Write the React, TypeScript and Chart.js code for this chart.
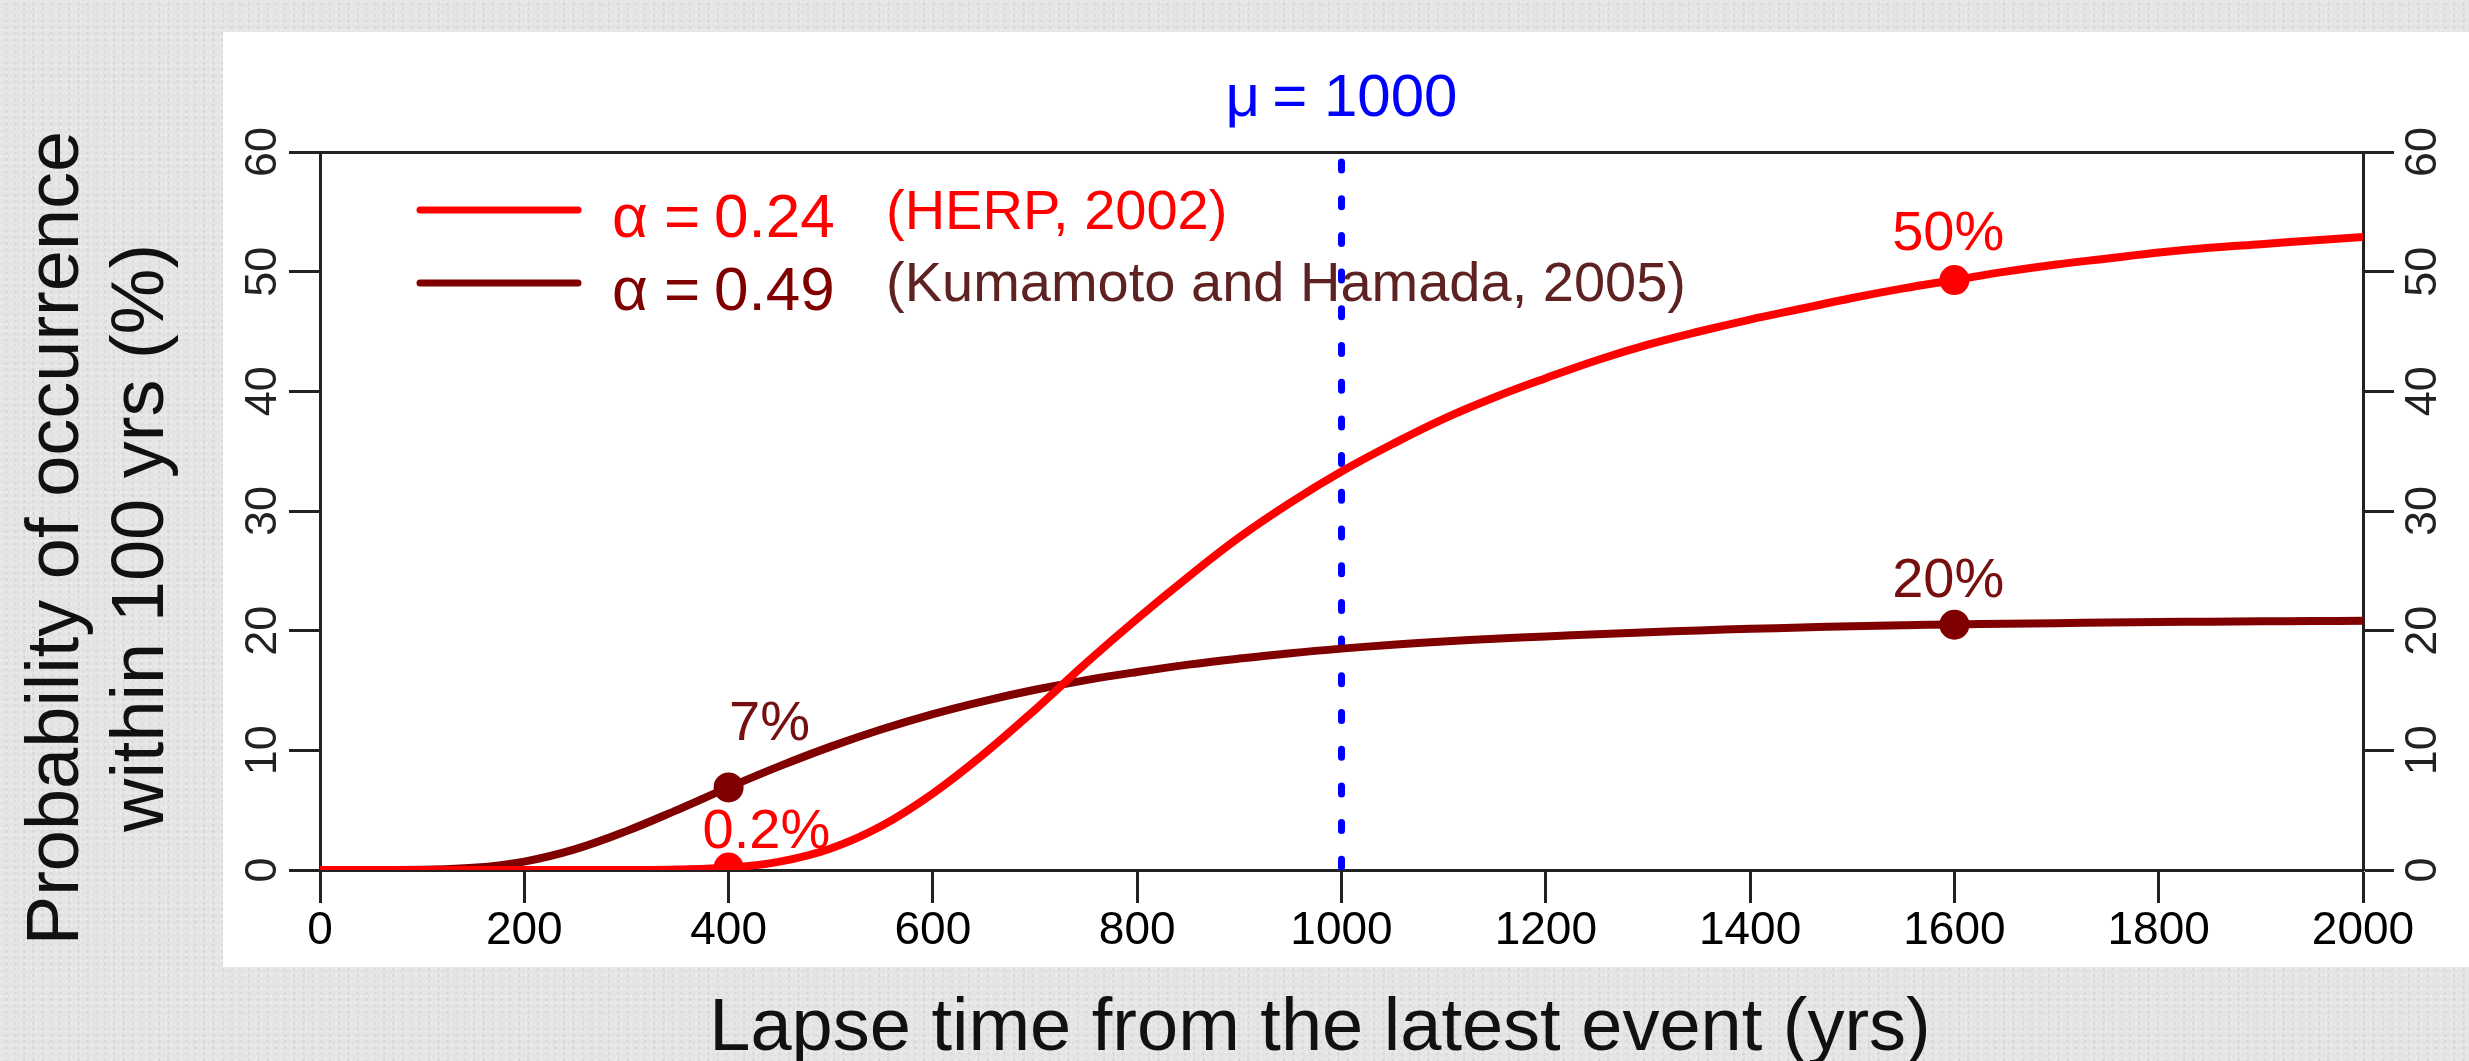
import React, { useEffect, useRef } from 'react';
import { Chart, registerables } from 'chart.js';

Chart.register(...registerables);

// ---------- data ----------
const lapseYears = [
  0, 50, 100, 150, 200, 250, 300, 350, 400, 450, 500, 550, 600, 650, 700, 750, 800, 850, 900, 950,
  1000, 1050, 1100, 1150, 1200, 1250, 1300, 1350, 1400, 1450, 1500, 1550, 1600, 1650, 1700, 1750, 1800, 1850, 1900, 1950, 2000,
];
const probAlpha024 = [
  0, 0, 0, 0, 0, 0, 0, 0.04, 0.2, 0.7, 1.8, 3.7, 6.4, 9.7, 13.4, 17.3, 21.0, 24.5, 27.8, 30.7,
  33.3, 35.6, 37.7, 39.5, 41.1, 42.6, 43.9, 45.0, 46.0, 46.9, 47.8, 48.6, 49.3, 50.0, 50.6, 51.1, 51.6, 52.0, 52.3, 52.6, 52.9,
];
const probAlpha049 = [
  0, 0, 0.02, 0.18, 0.7, 1.74, 3.25, 5.03, 6.9, 8.68, 10.31, 11.76, 13.03, 14.12, 15.06, 15.87, 16.55, 17.16, 17.67, 18.12,
  18.5, 18.82, 19.1, 19.32, 19.52, 19.7, 19.87, 20.02, 20.15, 20.27, 20.37, 20.45, 20.52, 20.58, 20.63, 20.68, 20.72, 20.75, 20.78, 20.8, 20.82,
];

const markerYears = [400, 1600];
const markerAlpha024 = [0.2, 49.3];
const markerAlpha049 = [6.9, 20.5];

const meanYears = [1000];
const meanLineY = [60, 0];
const meanLabel = 'μ\u2009= 1000';

const annoLabels = ['0.2%', '7%', '50%', '20%'];
const annoX = [437, 440, 1594, 1594];
const annoY = [1.8, 10.9, 51.8, 22.8];
const annoSeries = [0, 1, 0, 1];

const legendAlpha = ['0.24', '0.49'];
const legendSource = ['(HERP, 2002)', '(Kumamoto and Hamada, 2005)'];

const xTitle = 'Lapse time from the latest event (yrs)';
const yTitle = ['Probability of occurrence', 'within 100 yrs (%)'];

// ---------- styles ----------
const FONT = "'Liberation Sans', Arial, Helvetica, sans-serif";
const RED = '#ff0000';
const DARK = '#800000';
const ANNO_COLORS = ['#ff0000', '#761010'];
const SOURCE_COLORS = ['#ff0000', '#5e2222'];
const AXIS = '#222222';

Chart.defaults.font.family = FONT;

const W = 2469;
const H = 1061;

const overlayPlugin = {
  id: 'overlay',
  afterDraw(chart: any) {
    const ctx = chart.ctx as CanvasRenderingContext2D;
    const xs = chart.scales.x;
    const ys = chart.scales.y;
    ctx.save();

    // legend
    const lineY = [210, 283];
    const alphaBase = [237, 310];
    const srcBase = [229, 301];
    const lineColors = [RED, DARK];
    for (let i = 0; i < 2; i++) {
      ctx.strokeStyle = lineColors[i];
      ctx.lineWidth = 7;
      ctx.lineCap = 'round';
      ctx.beginPath();
      ctx.moveTo(420, lineY[i]);
      ctx.lineTo(578, lineY[i]);
      ctx.stroke();

      ctx.fillStyle = lineColors[i];
      ctx.textAlign = 'left';
      ctx.textBaseline = 'alphabetic';
      ctx.font = `62px ${FONT}`;
      ctx.fillText('α', 612, alphaBase[i]);
      ctx.fillText('=', 664, alphaBase[i]);
      ctx.fillText(legendAlpha[i], 714, alphaBase[i]);

      ctx.fillStyle = SOURCE_COLORS[i];
      ctx.font = `56px ${FONT}`;
      ctx.fillText(legendSource[i], 886, srcBase[i]);
    }

    // point annotations
    ctx.font = `56px ${FONT}`;
    ctx.textAlign = 'center';
    ctx.textBaseline = 'alphabetic';
    annoLabels.forEach((t, i) => {
      ctx.fillStyle = ANNO_COLORS[annoSeries[i]];
      ctx.fillText(t, xs.getPixelForValue(annoX[i]), ys.getPixelForValue(annoY[i]));
    });

    // axis titles
    ctx.fillStyle = '#111111';
    ctx.font = `74px ${FONT}`;
    ctx.textAlign = 'center';
    ctx.fillText(xTitle, 1320, 1050);

    const yBase = [78, 163];
    yTitle.forEach((t, i) => {
      ctx.save();
      ctx.translate(yBase[i], 538);
      ctx.rotate(-Math.PI / 2);
      ctx.fillText(t, 0, 0);
      ctx.restore();
    });

    ctx.restore();
  },
};

const pts = (xs: number[], ys: number[]) => xs.map((x, i) => ({ x, y: ys[i] }));

export default function App() {
  const ref = useRef<HTMLCanvasElement>(null);

  useEffect(() => {
    const canvas = ref.current;
    if (!canvas) return;
    const clipPlot = { left: 0, top: 30, right: 0, bottom: 0 };
    const yTicks = (position: 'left' | 'right', padding: number) => ({
      type: 'linear' as const,
      position,
      min: 0,
      max: 60,
      afterFit: (s: any) => {
        s.width = position === 'left' ? 320 : W - 2363;
      },
      ticks: {
        stepSize: 10,
        minRotation: 90,
        maxRotation: 90,
        crossAlign: 'center' as const,
        padding,
        color: AXIS,
        font: { size: 45, family: FONT },
        callback: (v: any) => String(v),
      },
      grid: {
        drawOnChartArea: false,
        drawTicks: true,
        tickLength: 31,
        tickWidth: 3,
        tickColor: AXIS,
      },
      border: { display: true, width: 3, color: AXIS },
    });

    const chart = new Chart(canvas, {
      type: 'line',
      data: {
        datasets: [
          {
            label: 'markers α=0.24',
            data: pts(markerYears, markerAlpha024),
            showLine: false,
            pointRadius: 15,
            pointBackgroundColor: RED,
            pointBorderWidth: 0,
            borderColor: RED,
            order: 0,
            clip: clipPlot,
          },
          {
            label: 'markers α=0.49',
            data: pts(markerYears, markerAlpha049),
            showLine: false,
            pointRadius: 15,
            pointBackgroundColor: DARK,
            pointBorderWidth: 0,
            borderColor: DARK,
            order: 0,
            clip: clipPlot,
          },
          {
            label: 'α = 0.24',
            data: pts(lapseYears, probAlpha024),
            borderColor: RED,
            borderWidth: 8,
            pointRadius: 0,
            tension: 0.4,
            order: 1,
            clip: clipPlot,
          },
          {
            label: 'α = 0.49',
            data: pts(lapseYears, probAlpha049),
            borderColor: DARK,
            borderWidth: 8,
            pointRadius: 0,
            tension: 0.4,
            order: 2,
            clip: clipPlot,
          },
          {
            label: 'mean',
            data: pts([meanYears[0], meanYears[0]], meanLineY),
            borderColor: '#0000ff',
            borderWidth: 7,
            borderDash: [8, 28.7],
            borderDashOffset: -10,
            borderCapStyle: 'round',
            pointRadius: 0,
            order: 3,
          },
        ],
      },
      options: {
        responsive: false,
        animation: false,
        devicePixelRatio: 1,
        layout: { padding: 0 },
        plugins: {
          legend: { display: false },
          tooltip: { enabled: false },
        },
        scales: {
          x: {
            type: 'linear',
            position: 'bottom',
            min: 0,
            max: 2000,
            afterFit: (s: any) => {
              s.height = H - 870;
            },
            ticks: {
              stepSize: 200,
              maxRotation: 0,
              autoSkip: false,
              padding: 1,
              color: '#000000',
              font: { size: 46, family: FONT },
              callback: (v: any) => String(v),
            },
            grid: {
              drawOnChartArea: false,
              drawTicks: true,
              tickLength: 33,
              tickWidth: 3,
              tickColor: AXIS,
            },
            border: { display: true, width: 3, color: AXIS },
          },
          xTop: {
            type: 'linear',
            position: 'top',
            min: 0,
            max: 2000,
            afterBuildTicks: (s: any) => {
              s.ticks = meanYears.map((v) => ({ value: v }));
            },
            afterFit: (s: any) => {
              s.height = 152;
            },
            ticks: {
              autoSkip: false,
              maxRotation: 0,
              padding: 17,
              color: '#0000ff',
              font: { size: 60, family: FONT },
              callback: () => meanLabel,
            },
            grid: { display: false, drawTicks: false, drawOnChartArea: false },
            border: { display: true, width: 3, color: AXIS },
          },
          y: yTicks('left', 0),
          y2: yTicks('right', 5),
        },
      } as any,
      plugins: [overlayPlugin],
    });
    return () => chart.destroy();
  }, []);

  return (
    <div
      style={{
        position: 'fixed',
        left: 0,
        top: 0,
        width: W,
        height: H,
        overflow: 'hidden',
        background: '#e4e4e4',
        backgroundImage:
          'radial-gradient(circle at 20% 30%, rgba(255,255,255,0.3) 0 1px, transparent 2px), radial-gradient(circle at 70% 60%, rgba(190,190,190,0.3) 0 1px, transparent 2px)',
        backgroundSize: '5px 7px, 9px 6px',
      }}
    >
      <div
        style={{
          position: 'absolute',
          left: 223,
          top: 32,
          width: W - 223,
          height: 967 - 32,
          background: '#ffffff',
        }}
      />
      <canvas
        ref={ref}
        width={W}
        height={H}
        style={{ position: 'absolute', left: 0, top: 0, width: W, height: H }}
      />
    </div>
  );
}
